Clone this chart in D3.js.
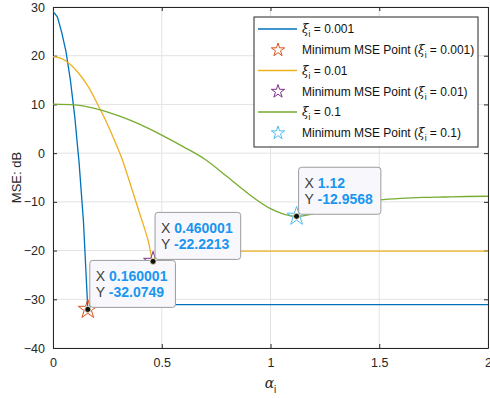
<!DOCTYPE html>
<html>
<head>
<meta charset="utf-8">
<script src="https://cdn.jsdelivr.net/npm/d3@7"></script>
<style>
  body { margin: 0; background: #fff; }
  svg text { font-family: "Liberation Sans", Arial, sans-serif; }
</style>
</head>
<body>
<div id="chart"></div>
<script>
// data
var alphaBlue = [0, 0.02, 0.04, 0.06, 0.08, 0.1, 0.12, 0.14, 0.16, 0.18, 2];
var mseBlue = [29.1, 28.0, 24.8, 20.8, 15.0, 7.5, -2.0, -14.0, -32.0749, -31.1, -31.1];

var alphaYellow = [0, 0.04, 0.08, 0.12, 0.16, 0.2, 0.24, 0.28, 0.32, 0.36, 0.4, 0.44, 0.46, 0.48, 2];
var mseYellow = [19.8, 19.4, 18.2, 16.3, 13.8, 10.5, 6.9, 2.9, -1.5, -7.0, -12.6, -18.4, -22.2213, -20.1, -20.1];

var alphaGreen = [0, 0.1, 0.2, 0.3, 0.4, 0.5, 0.6, 0.7, 0.8, 0.9, 1.0, 1.06, 1.12, 1.2, 1.3, 1.4, 1.5, 1.6, 1.7, 1.8, 1.9, 2.0];
var mseGreen = [10.05, 9.9, 9.1, 7.7, 5.9, 3.7, 1.3, -1.3, -4.8, -8.4, -11.4, -12.5, -12.9568, -12.4, -11.1, -10.1, -9.6, -9.3, -9.1, -9.0, -8.9, -8.85];

var xiLabels = ["0.001", "0.01", "0.1"];
var minAlpha = [0.160001, 0.460001, 1.12];
var minMse = [-32.0749, -22.2213, -12.9568];
var tipX = ["0.160001", "0.460001", "1.12"];
var tipY = ["-32.0749", "-22.2213", "-12.9568"];

var xTicks = [0, 0.5, 1, 1.5, 2];
var yTicks = [-40, -30, -20, -10, 0, 10, 20, 30];

var lineColors = ["#0072BD", "#EDB120", "#77AC30"];
var starColors = ["#D95319", "#7E2F8E", "#4DBEEE"];

// Step 1: set up the chart
var svgWidth = 490;
var svgHeight = 398;
var margin = { top: 7, right: 2, bottom: 50, left: 53 };
var width = svgWidth - margin.left - margin.right;
var height = svgHeight - margin.top - margin.bottom;

var svg = d3.select("#chart")
  .append("svg")
  .attr("width", svgWidth)
  .attr("height", svgHeight);

var chartGroup = svg.append("g")
  .attr("transform", `translate(${margin.left}, ${margin.top})`);

// Step 2: scales
var xScale = d3.scaleLinear().domain([0, 2]).range([0, width]);
var yScale = d3.scaleLinear().domain([-40, 30]).range([height, 0]);

// grid
chartGroup.append("g")
  .selectAll("line.gx")
  .data(xTicks)
  .enter()
  .append("line")
  .attr("x1", d => xScale(d)).attr("x2", d => xScale(d))
  .attr("y1", 0).attr("y2", height)
  .attr("stroke", "#e3e3e3").attr("stroke-width", 1);

chartGroup.append("g")
  .selectAll("line.gy")
  .data(yTicks)
  .enter()
  .append("line")
  .attr("x1", 0).attr("x2", width)
  .attr("y1", d => yScale(d)).attr("y2", d => yScale(d))
  .attr("stroke", "#e3e3e3").attr("stroke-width", 1);

// Step 3: axes (ticks inside, box on)
var axisColor = "#262626";
var bottomAxis = d3.axisBottom(xScale).tickValues(xTicks).tickSizeInner(-4).tickSizeOuter(0)
  .tickPadding(10).tickFormat(d3.format("~g"));
var leftAxis = d3.axisLeft(yScale).tickValues(yTicks).tickSizeInner(-4).tickSizeOuter(0).tickPadding(8);
var topAxis = d3.axisTop(xScale).tickValues(xTicks).tickSizeInner(-4).tickSizeOuter(0).tickFormat("");
var rightAxis = d3.axisRight(yScale).tickValues(yTicks).tickSizeInner(-4).tickSizeOuter(0).tickFormat("");

function styleAxis(g) {
  g.selectAll("path").attr("stroke", axisColor);
  g.selectAll("line").attr("stroke", axisColor);
  g.selectAll("text").attr("fill", axisColor).style("font-size", "12.5px");
}

chartGroup.append("g").attr("transform", `translate(0, ${height})`).call(bottomAxis).call(styleAxis);
chartGroup.append("g").call(leftAxis).call(styleAxis);
chartGroup.append("g").call(topAxis).call(styleAxis);
chartGroup.append("g").attr("transform", `translate(${width}, 0)`).call(rightAxis).call(styleAxis);

// axis labels
svg.append("text")
  .attr("transform", `translate(21, ${margin.top + height / 2}) rotate(-90)`)
  .attr("text-anchor", "middle")
  .attr("fill", axisColor)
  .style("font-size", "13px")
  .text("MSE: dB");

var xl = svg.append("text")
  .attr("x", margin.left + width / 2)
  .attr("y", 388)
  .attr("text-anchor", "middle")
  .attr("fill", axisColor)
  .style("font-size", "14px");
xl.append("tspan").style("font-style", "italic").style("font-family", "'DejaVu Serif', serif").text("α");
xl.append("tspan").attr("dy", 5).style("font-size", "10px").text("i");

// Step 4: lines
var series = [
  { a: alphaBlue, m: mseBlue, curve: d3.curveLinear },
  { a: alphaYellow, m: mseYellow, curve: d3.curveMonotoneX },
  { a: alphaGreen, m: mseGreen, curve: d3.curveMonotoneX }
];

chartGroup.append("clipPath").attr("id", "clip")
  .append("rect").attr("width", width).attr("height", height);

series.forEach(function (s, i) {
  var pts = s.a.map((a, j) => [a, s.m[j]]);
  var line = d3.line()
    .x(d => xScale(d[0]))
    .y(d => yScale(d[1]))
    .curve(s.curve);
  chartGroup.append("path")
    .datum(pts)
    .attr("clip-path", "url(#clip)")
    .attr("d", line)
    .attr("fill", "none")
    .attr("stroke", lineColors[i])
    .attr("stroke-width", 1.3);
});

// Step 5: minimum stars + datatip dots
var star = d3.symbol().type(d3.symbolStar);

chartGroup.selectAll(".minstar")
  .data(minAlpha)
  .enter()
  .append("path")
  .attr("class", "minstar")
  .attr("transform", (d, i) => `translate(${xScale(d)}, ${yScale(minMse[i])})`)
  .attr("d", star.size(112)())
  .attr("fill", "none")
  .attr("stroke", (d, i) => starColors[i])
  .attr("stroke-width", 1);

// Step 6: datatips
minAlpha.forEach(function (a, i) {
  var px = xScale(a), py = yScale(minMse[i]);
  var tip = chartGroup.append("g").attr("transform", `translate(${px + 2}, ${py - 49})`);
  var box = tip.append("rect")
    .attr("rx", 3).attr("ry", 3)
    .attr("height", 47)
    .attr("fill", "#f8f8fc")
    .attr("stroke", "#9c9c9c")
    .attr("stroke-width", 1);
  var t1 = tip.append("text").attr("x", 6).attr("y", 21).style("font-size", "14px");
  t1.append("tspan").attr("fill", "#404040").text("X ");
  t1.append("tspan").attr("fill", "#1a96f0").style("font-weight", "bold").text(tipX[i]);
  var t2 = tip.append("text").attr("x", 6).attr("y", 37).style("font-size", "14px");
  t2.append("tspan").attr("fill", "#404040").text("Y ");
  t2.append("tspan").attr("fill", "#1a96f0").style("font-weight", "bold").text(tipY[i]);
  var w = Math.max(t1.node().getComputedTextLength(), t2.node().getComputedTextLength()) + 14;
  box.attr("width", w);
  chartGroup.append("circle")
    .attr("cx", px).attr("cy", py).attr("r", 3)
    .attr("fill", "#111").attr("stroke", "#f0e8c0").attr("stroke-width", 0.8);
});

// Step 7: legend
var legend = svg.append("g").attr("transform", "translate(254, 17)");
legend.append("rect")
  .attr("width", 224).attr("height", 130)
  .attr("fill", "#fff")
  .attr("stroke", "#262626")
  .attr("stroke-width", 1);

function xiText(sel, value, prefix) {
  var t = sel.append("text").attr("x", 48).attr("y", 4)
    .attr("fill", "#111").style("font-size", "12px");
  if (prefix) t.append("tspan").text(prefix + "(");
  t.append("tspan").style("font-style", "italic").style("font-family", "'DejaVu Serif', serif").text("ξ");
  t.append("tspan").attr("dy", 4).style("font-size", "8.5px").text("i");
  t.append("tspan").attr("dy", -4).text(" = " + value + (prefix ? ")" : ""));
}

xiLabels.forEach(function (xi, i) {
  var r1 = legend.append("g").attr("transform", `translate(0, ${12 + i * 41.5})`);
  r1.append("line").attr("x1", 4).attr("x2", 43).attr("y1", 0).attr("y2", 0)
    .attr("stroke", lineColors[i]).attr("stroke-width", 1.3);
  xiText(r1, xi, null);
  var r2 = legend.append("g").attr("transform", `translate(0, ${33 + i * 41.5})`);
  r2.append("path")
    .attr("transform", "translate(24, 0)")
    .attr("d", star.size(55)())
    .attr("fill", "none")
    .attr("stroke", starColors[i])
    .attr("stroke-width", 1);
  xiText(r2, xi, "Minimum MSE Point ");
});
</script>
</body>
</html>
